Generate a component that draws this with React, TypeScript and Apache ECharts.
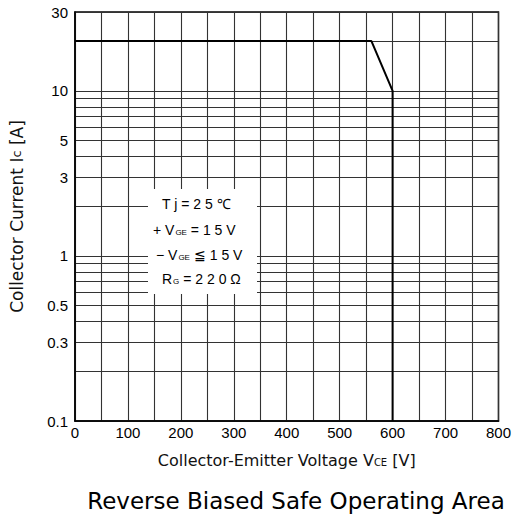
import React, { useEffect, useRef } from "react";
import * as echarts from "echarts";

const curveVce = [0, 560, 600, 600];
const curveIc = [20, 20, 10, 0.1];
const yLabelValues = [0.1, 0.3, 0.5, 1, 3, 5, 10, 30];
const yGridValues = [0.1, 0.2, 0.3, 0.4, 0.5, 0.6, 0.7, 0.8, 0.9, 1, 2, 3, 4, 5, 6, 7, 8, 9, 10, 20, 30];
const xLabelValues = [0, 100, 200, 300, 400, 500, 600, 700, 800];

const FONT = "Liberation Sans";
const WIDE = "DejaVu Sans";

export default function App() {
  const ref = useRef<HTMLDivElement>(null);
  useEffect(() => {
    document.body.style.margin = "0";
    const chart = echarts.init(ref.current!, null, { renderer: "svg" });
    const data = curveVce.map((v, i) => [v, curveIc[i]]);
    chart.setOption({
      animation: false,
      backgroundColor: "#fff",
      grid: {
        left: 74,
        right: 15,
        top: 12,
        bottom: 99,
        show: true,
        borderColor: "#000",
        borderWidth: 1.5,
        backgroundColor: "transparent",
      },
      xAxis: {
        type: "value",
        min: 0,
        max: 800,
        interval: 50,
        axisLine: { show: true, lineStyle: { color: "#000", width: 1.5 } },
        axisTick: { show: false },
        splitLine: { show: true, lineStyle: { color: "#333", width: 1.1 } },
        axisLabel: {
          customValues: xLabelValues,
          color: "#000",
          fontFamily: FONT,
          fontSize: 15,
          margin: 4,
        },
        name: "{n|Collector-Emitter Voltage V}{s|CE}{n| [V]}",
        nameLocation: "middle",
        nameGap: 31,
        nameTextStyle: {
          rich: {
            n: { fontFamily: WIDE, fontSize: 16, color: "#111" },
            s: { fontFamily: WIDE, fontSize: 10, color: "#111", padding: [4, 0, 0, 0] },
          },
        },
      },
      yAxis: {
        type: "log",
        logBase: 10,
        min: 0.1,
        max: 30,
        axisLine: { show: true, lineStyle: { color: "#000", width: 1.5 } },
        axisTick: { show: false, customValues: yGridValues },
        splitLine: { show: true, lineStyle: { color: "#333", width: 1.1 } },
        minorSplitLine: { show: false },
        axisLabel: {
          customValues: yLabelValues,
          color: "#000",
          fontFamily: FONT,
          fontSize: 15,
          margin: 7,
          formatter: (v: number) => String(v),
        },
        name: "{n|Collector Current I}{s|c}{n| [A]}",
        nameLocation: "middle",
        nameGap: 50,
        nameTextStyle: {
          rich: {
            n: { fontFamily: WIDE, fontSize: 17, color: "#111" },
            s: { fontFamily: WIDE, fontSize: 13, color: "#111" },
          },
        },
      },
      series: [
        {
          type: "line",
          data,
          symbol: "none",
          lineStyle: { color: "#000", width: 2 },
          z: 5,
        },
      ],
      graphic: [
        {
          type: "rect",
          shape: { x: 148, y: 189, width: 109, height: 105 },
          style: { fill: "#fff" },
          z: 10,
        },
        {
          type: "text",
          x: 162,
          y: 204,
          z: 11,
          style: {
            text: "T j = 2 5 ℃",
            fontFamily: FONT,
            fontSize: 14,
            fill: "#000",
            verticalAlign: "middle",
          },
        },
        {
          type: "text",
          x: 153,
          y: 230,
          z: 11,
          style: {
            text: "{n|+ V}{s|GE}{n| = 1 5 V}",
            verticalAlign: "middle",
            rich: {
              n: { fontFamily: FONT, fontSize: 14, fill: "#000" },
              s: { fontFamily: FONT, fontSize: 8, fill: "#000", padding: [5, 0, 0, 1] },
            },
          },
        },
        {
          type: "text",
          x: 156,
          y: 255,
          z: 11,
          style: {
            text: "{n|− V}{s|GE}{n| ≦ 1 5 V}",
            verticalAlign: "middle",
            rich: {
              n: { fontFamily: FONT, fontSize: 14, fill: "#000" },
              s: { fontFamily: FONT, fontSize: 8, fill: "#000", padding: [5, 0, 0, 1] },
            },
          },
        },
        {
          type: "text",
          x: 162,
          y: 279,
          z: 11,
          style: {
            text: "{n|R}{s|G}{n| = 2 2 0 Ω}",
            verticalAlign: "middle",
            rich: {
              n: { fontFamily: FONT, fontSize: 14, fill: "#000" },
              s: { fontFamily: FONT, fontSize: 8, fill: "#000", padding: [5, 0, 0, 1] },
            },
          },
        },
        {
          type: "text",
          x: 296,
          y: 501,
          style: {
            text: "Reverse Biased Safe Operating Area",
            fontFamily: WIDE,
            fontSize: 23,
            fill: "#000",
            align: "center",
            verticalAlign: "middle",
          },
        },
      ],
    });
    return () => chart.dispose();
  }, []);
  return <div ref={ref} style={{ width: 514, height: 520 }} />;
}
